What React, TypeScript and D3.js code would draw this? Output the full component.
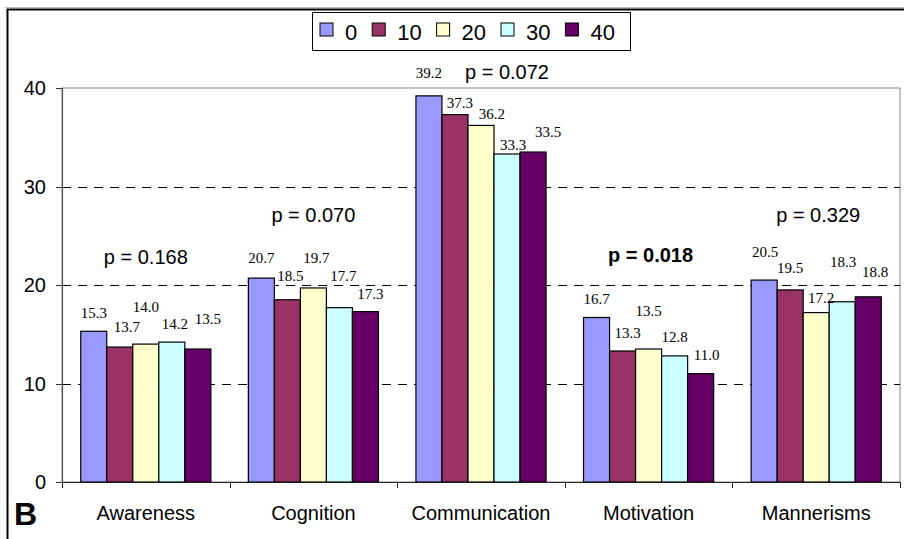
import * as d3 from "d3";

// chart values
const categories = ["Awareness", "Cognition", "Communication", "Motivation", "Mannerisms"];
const seriesNames = ["0", "10", "20", "30", "40"];
const s0 = [15.3, 20.7, 39.2, 16.7, 20.5];
const s10 = [13.7, 18.5, 37.3, 13.3, 19.5];
const s20 = [14.0, 19.7, 36.2, 13.5, 17.2];
const s30 = [14.2, 17.7, 33.3, 12.8, 18.3];
const s40 = [13.5, 17.3, 33.5, 11.0, 18.8];
const pValues = ["0.168", "0.070", "0.072", "0.018", "0.329"];
const yTicks = [0, 10, 20, 30, 40];

const colors = ["#9999FF", "#993366", "#FFFFCC", "#CCFFFF", "#660066"];

// hand-placed label nudges (px), as in the original sheet: [dx, dy] per bar
const labelNudge = [
  [[0, -19], [7, -20], [0, -37], [3, -18], [10, -30]],
  [[0, -20], [3, -24], [3, -30], [4, -32], [5, -18]],
  [[0, -23], [5, -12], [11, -12], [6, -9], [15, -20]],
  [[0, -19], [5, -18], [0, -38], [0, -19], [6, -19]],
  [[1, -28], [0, -22], [5, -15], [1, -40], [7, -25]],
];
// p label anchor: value level on y and dx from group centre
const pLevel = [22.8, 27.1, 41.6, 23.0, 27.1];
const pDx = [0, 0, 26, 2, 2];

const W = 904, H = 539;
const margin = { left: 62, right: 4, top: 88, bottom: 57 };

const sans = "'Liberation Sans', Arial, sans-serif";
const serif = "'Liberation Serif', 'Times New Roman', serif";

export default function App() {
  const series = [s0, s10, s20, s30, s40];
  const x0 = d3.scaleBand().domain(categories).range([margin.left, W - margin.right]).paddingInner(0).paddingOuter(0);
  const x1 = d3.scaleBand().domain(seriesNames).range([0, x0.bandwidth()]).paddingInner(0).paddingOuter(0.72);
  const y = d3.scaleLinear().domain([0, 40]).range([H - margin.bottom, margin.top]);

  const plotRight = W - margin.right;
  const legendX = 320;
  let lx = legendX;
  const legendItems = seriesNames.map((name, i) => {
    const item = { name, x: lx, color: colors[i] };
    lx += 13 + 12 + name.length * 12.2 + 15;
    return item;
  });

  return (
    <svg width={W} height={H} style={{ position: "absolute", left: 0, top: 0, background: "#fff" }}>
      {/* outer frame */}
      <line x1={5} x2={W} y1={7.5} y2={7.5} stroke="#bbb" strokeWidth={1} />
      <path d={`M7.5,${H} V9.5 H${W}`} fill="none" stroke="#000" strokeWidth={2} />

      {/* plot area border */}
      <rect x={margin.left} y={y(40)} width={plotRight - margin.left} height={y(0) - y(40)} fill="none" stroke="#888" strokeWidth={1} />

      {/* gridlines */}
      {yTicks.filter((t) => t > 0 && t < 40).map((t) => (
        <line key={t} x1={margin.left} x2={plotRight} y1={Math.round(y(t)) + 0.5} y2={Math.round(y(t)) + 0.5}
          stroke="#000" strokeWidth={1} strokeDasharray="9,7" />
      ))}

      {/* y axis */}
      <line x1={margin.left + 0.5} x2={margin.left + 0.5} y1={y(40)} y2={y(0)} stroke="#555" strokeWidth={1.2} />
      {yTicks.map((t) => (
        <g key={t}>
          <line x1={margin.left - 6} x2={margin.left} y1={Math.round(y(t)) + 0.5} y2={Math.round(y(t)) + 0.5} stroke="#333" />
          <text x={46} y={y(t)} dy="0.36em" textAnchor="end" fontFamily={sans} fontSize={20} fill="#000">{t}</text>
        </g>
      ))}

      {/* bars */}
      {categories.map((c, ci) => (
        <g key={c} transform={`translate(${x0(c)},0)`}>
          {seriesNames.map((s, si) => {
            const v = series[si][ci];
            const bx = x1(s) as number;
            return (
              <rect key={s} x={bx} y={y(v)} width={x1.bandwidth()} height={y(0) - y(v)}
                fill={colors[si]} stroke="#000" strokeWidth={1.2} />
            );
          })}
          {seriesNames.map((s, si) => {
            const v = series[si][ci];
            const [dx, dy] = labelNudge[ci][si];
            return (
              <text key={"l" + s} x={(x1(s) as number) + x1.bandwidth() / 2 + dx} y={y(v) + dy} dy="0.35em"
                textAnchor="middle" fontFamily={serif} fontSize={15} fill="#000">{v.toFixed(1)}</text>
            );
          })}
          <text x={x0.bandwidth() / 2 + pDx[ci]} y={y(pLevel[ci])} dy="0.35em" textAnchor="middle"
            fontFamily={sans} fontSize={20} fontWeight={+pValues[ci] < 0.05 ? "bold" : "normal"} fill="#000">
            p = {pValues[ci]}
          </text>
        </g>
      ))}

      {/* x axis */}
      <line x1={margin.left} x2={plotRight} y1={y(0) + 0.5} y2={y(0) + 0.5} stroke="#222" strokeWidth={1.2} />
      {[...categories.map((c) => x0(c) as number), plotRight].map((tx, i) => (
        <line key={i} x1={Math.round(tx) + 0.5} x2={Math.round(tx) + 0.5} y1={y(0)} y2={y(0) + 6} stroke="#222" />
      ))}
      {categories.map((c) => (
        <text key={c} x={(x0(c) as number) + x0.bandwidth() / 2} y={520} textAnchor="middle"
          fontFamily={sans} fontSize={20} fill="#000">{c}</text>
      ))}

      {/* panel letter */}
      <text x={14} y={525} fontFamily={sans} fontWeight="bold" fontSize={32} fill="#000">B</text>

      {/* legend */}
      <rect x={312.5} y={12.5} width={318} height={38} fill="#fff" stroke="#000" strokeWidth={1} />
      {legendItems.map((it) => (
        <g key={it.name}>
          <rect x={it.x} y={23} width={13} height={13} fill={it.color} stroke="#000" strokeWidth={1} />
          <text x={it.x + 25} y={39.5} fontFamily={sans} fontSize={22} fill="#000">{it.name}</text>
        </g>
      ))}
    </svg>
  );
}
